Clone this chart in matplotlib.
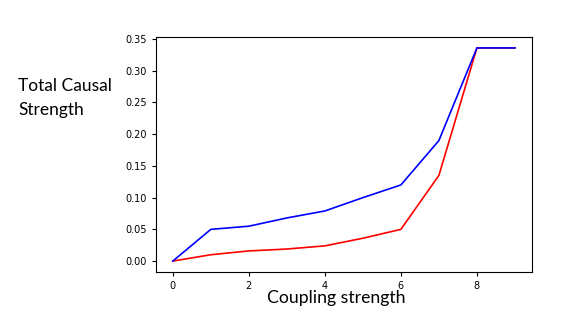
import matplotlib
matplotlib.use('Agg')
import matplotlib.pyplot as plt

coupling = [0, 1, 2, 3, 4, 5, 6, 7, 8, 9]
red_vals = [0.0, 0.010, 0.016, 0.019, 0.024, 0.036, 0.050, 0.135, 0.336, 0.336]
blue_vals = [0.0, 0.050, 0.055, 0.068, 0.079, 0.100, 0.120, 0.190, 0.336, 0.336]

fig = plt.figure(figsize=(5.81, 3.27), dpi=100)
ax = fig.add_axes([0.268, 0.169, 0.6477, 0.717])

ax.plot(coupling, red_vals, color='red', linewidth=1.2)
ax.plot(coupling, blue_vals, color='blue', linewidth=1.2)

ax.set_xticks([0, 2, 4, 6, 8])
ax.set_yticks([0.0, 0.05, 0.10, 0.15, 0.20, 0.25, 0.30, 0.35])
ax.set_yticklabels(['0.00', '0.05', '0.10', '0.15', '0.20', '0.25', '0.30', '0.35'])
ax.tick_params(labelsize=7, length=3, width=0.8)
for s in ax.spines.values():
    s.set_linewidth(0.8)

fig.text(18 / 581, 1 - 98 / 327, 'Total Causal\nStrength', family='Lato',
         fontsize=12.5, ha='left', va='center', linespacing=1.55)
fig.text(336 / 581, 1 - 298 / 327, 'Coupling strength', family='Lato',
         fontsize=12.7, ha='center', va='center')

fig.savefig('out.png', dpi=100)
